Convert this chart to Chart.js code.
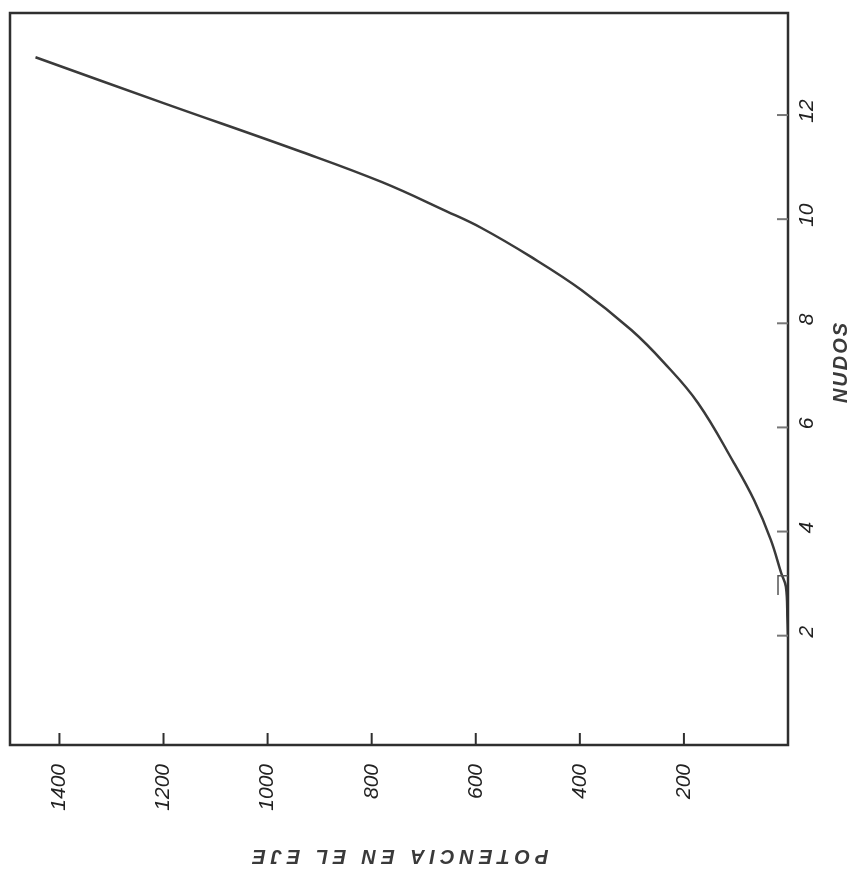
<!DOCTYPE html>
<html>
<head>
<meta charset="utf-8">
<script src="https://cdn.jsdelivr.net/npm/chart.js@4.4.1/dist/chart.umd.min.js"></script>
<style>
  html, body { margin: 0; padding: 0; background: #fff; }
  #wrap { width: 863px; height: 888px; }
</style>
</head>
<body>
<div id="wrap"><canvas id="powerChart" width="863" height="888"></canvas></div>
<script>
// power on the shaft (horizontal, reversed) vs speed in knots (vertical)
const powerValues = [1446, 1200, 934, 780, 656, 589, 493, 397, 301, 238, 173, 104, 65, 33, 13, 4, 1, 0];
const knotValues = [13.11, 12.23, 11.29, 10.71, 10.15, 9.83, 9.27, 8.64, 7.87, 7.24, 6.47, 5.32, 4.6, 3.84, 3.2, 2.94, 2.3, 1.97];

const powerTicks = [1400, 1200, 1000, 800, 600, 400, 200];
const knotTicks = [2, 4, 6, 8, 10, 12];

const powerTitle = "POTENCIA EN EL EJE";
const knotTitle = "NUDOS";

const inkColor = "#2f2f2f";
const labelFont = "italic 21px 'Liberation Sans', sans-serif";

const handAxes = {
  id: "handAxes",
  afterDraw(chart) {
    const { ctx, chartArea: a, scales: { x, y } } = chart;
    ctx.save();

    // frame
    ctx.strokeStyle = inkColor;
    ctx.lineWidth = 2.5;
    ctx.strokeRect(a.left, a.top, a.right - a.left, a.bottom - a.top);

    // little pasted patch near 3 knots
    ctx.strokeStyle = "#555";
    ctx.lineWidth = 1.5;
    ctx.beginPath();
    ctx.moveTo(a.right - 10, a.bottom - 150);
    ctx.lineTo(a.right - 10, y.getPixelForValue(3.15));
    ctx.lineTo(a.right, y.getPixelForValue(3.15));
    ctx.stroke();

    // power ticks + labels
    ctx.strokeStyle = inkColor;
    ctx.fillStyle = "#222";
    ctx.font = labelFont;
    powerTicks.forEach((v) => {
      const px = x.getPixelForValue(v);
      ctx.lineWidth = 2;
      ctx.beginPath();
      ctx.moveTo(px, a.bottom);
      ctx.lineTo(px, a.bottom - 12);
      ctx.stroke();

      ctx.save();
      ctx.translate(px, a.bottom + 19);
      ctx.rotate(-Math.PI / 2);
      ctx.textAlign = "right";
      ctx.textBaseline = "middle";
      ctx.fillText(String(v), 0, 0);
      ctx.restore();
    });

    // knot ticks + labels
    knotTicks.forEach((v) => {
      const py = y.getPixelForValue(v);
      ctx.strokeStyle = "#777";
      ctx.lineWidth = 2;
      ctx.beginPath();
      ctx.moveTo(a.right, py);
      ctx.lineTo(a.right - 11, py);
      ctx.stroke();

      ctx.save();
      ctx.translate(a.right + 19, py - 4);
      ctx.rotate(-Math.PI / 2);
      ctx.textAlign = "center";
      ctx.textBaseline = "middle";
      ctx.fillText(String(v), 0, 0);
      ctx.restore();
    });

    // axis titles
    ctx.font = "italic bold 20px 'Liberation Sans', sans-serif";
    ctx.fillStyle = "#3a3a3a";
    ctx.textAlign = "center";
    ctx.textBaseline = "middle";

    ctx.save();
    if ("letterSpacing" in ctx) ctx.letterSpacing = "2px";
    ctx.translate(841, 362);
    ctx.rotate(-Math.PI / 2);
    ctx.fillText(knotTitle, 0, 0);
    ctx.restore();

    ctx.save();
    if ("letterSpacing" in ctx) ctx.letterSpacing = "5px";
    ctx.translate(398, 856);
    ctx.rotate(Math.PI);
    ctx.fillText(powerTitle, 0, 0);
    ctx.restore();

    ctx.restore();
  }
};

new Chart(document.getElementById("powerChart"), {
  type: "line",
  data: {
    datasets: [
      {
        data: powerValues.map((p, i) => ({ x: p, y: knotValues[i] })),
        borderColor: "#3a3a3a",
        borderWidth: 2.5,
        pointRadius: 0,
        pointHoverRadius: 0,
        tension: 0.4,
        fill: false
      }
    ]
  },
  options: {
    responsive: false,
    animation: false,
    layout: { padding: { left: 10, top: 13, right: 75, bottom: 143 } },
    plugins: {
      legend: { display: false },
      tooltip: { enabled: false }
    },
    scales: {
      x: { type: "linear", reverse: true, min: 0, max: 1495, display: false },
      y: { type: "linear", min: -0.1, max: 13.96, display: false }
    }
  },
  plugins: [handAxes]
});
</script>
</body>
</html>
